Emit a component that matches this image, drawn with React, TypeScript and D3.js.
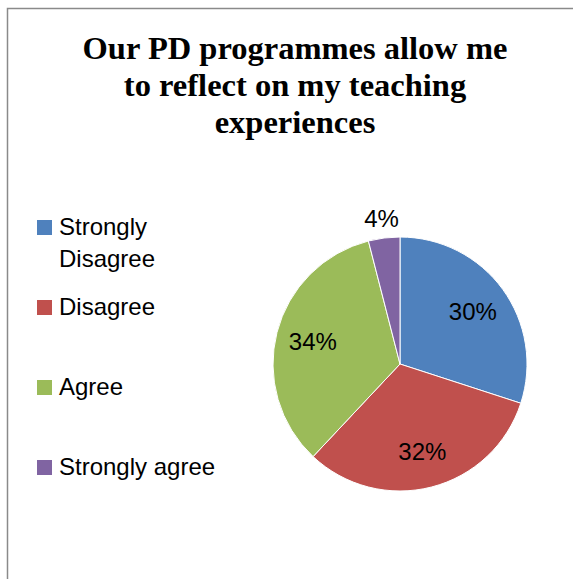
import React, { useEffect, useRef } from 'react';
import * as d3 from 'd3';

const categories: string[] = ['Strongly Disagree', 'Disagree', 'Agree', 'Strongly agree'];
const values: number[] = [30, 32, 34, 4];
const colors: string[] = ['#4F81BD', '#C0504D', '#9BBB59', '#8064A2'];
const titleLines: string[] = ['Our PD programmes allow me', 'to reflect on my teaching', 'experiences'];
// legend labels, wrapped the way the picture wraps them
const legendLines: string[][] = [['Strongly', 'Disagree'], ['Disagree'], ['Agree'], ['Strongly agree']];

const W = 573;
const H = 579;
const labelFont = '"Liberation Sans", Arial, sans-serif';

export const App: React.FC = () => {
  const svgRef = useRef<SVGSVGElement | null>(null);

  useEffect(() => {
    const svg = d3.select(svgRef.current);
    svg.selectAll('*').remove();

    // chart frame (runs off the right and bottom edge)
    svg.append('rect')
      .attr('x', 7.5).attr('y', 8.5)
      .attr('width', 700).attr('height', 700)
      .attr('fill', '#fff')
      .attr('stroke', '#8a8a8a')
      .attr('stroke-width', 1.5);

    // title
    svg.append('text')
      .attr('text-anchor', 'middle')
      .attr('font-family', '"Liberation Serif", "Times New Roman", serif')
      .attr('font-weight', 'bold')
      .attr('font-size', 32.5)
      .attr('fill', '#000')
      .selectAll('tspan')
      .data(titleLines)
      .join('tspan')
      .attr('x', 295)
      .attr('y', (_d, i) => 59 + i * 37)
      .text(d => d);

    // pie
    const cx = 400, cy = 364, r = 127;
    const pie = d3.pie<number>().sort(null).value(d => d);
    const arcs = pie(values);
    const arc = d3.arc<d3.PieArcDatum<number>>().innerRadius(0).outerRadius(r);
    const inner = d3.arc<d3.PieArcDatum<number>>().innerRadius(90).outerRadius(90);
    const outer = d3.arc<d3.PieArcDatum<number>>().innerRadius(147).outerRadius(147);

    const g = svg.append('g').attr('transform', `translate(${cx},${cy})`);
    g.selectAll('path')
      .data(arcs)
      .join('path')
      .attr('d', arc)
      .attr('fill', (_d, i) => colors[i])
      .attr('stroke', '#fff')
      .attr('stroke-width', 1);

    const total = d3.sum(values);
    g.selectAll('text.lbl')
      .data(arcs)
      .join('text')
      .classed('lbl', true)
      .attr('transform', d => {
        const p = (d.data / total) < 0.1 ? outer.centroid(d) : inner.centroid(d);
        return `translate(${p[0]},${p[1]})`;
      })
      .attr('text-anchor', 'middle')
      .attr('dy', '0.36em')
      .attr('font-family', labelFont)
      .attr('font-size', 24)
      .attr('fill', '#000')
      .text(d => `${Math.round((d.data / total) * 100)}%`);

    // legend
    const legend = svg.append('g');
    const items = legend.selectAll('g.item')
      .data(categories)
      .join('g')
      .classed('item', true)
      .attr('transform', (_d, i) => `translate(37,${235 + i * 80})`);

    items.append('rect')
      .attr('x', 0).attr('y', -15)
      .attr('width', 15).attr('height', 15)
      .attr('fill', (_d, i) => colors[i]);

    items.append('text')
      .attr('font-family', labelFont)
      .attr('font-size', 24)
      .attr('fill', '#000')
      .selectAll('tspan')
      .data((_d, i) => legendLines[i])
      .join('tspan')
      .attr('x', 22)
      .attr('y', (_d, j) => j * 32)
      .text(d => d);

    return () => {
      svg.selectAll('*').remove();
    };
  }, []);

  return (
    <svg ref={svgRef} width={W} height={H}
      style={{ position: 'absolute', left: 0, top: 0, display: 'block' }} />
  );
};

export default App;
